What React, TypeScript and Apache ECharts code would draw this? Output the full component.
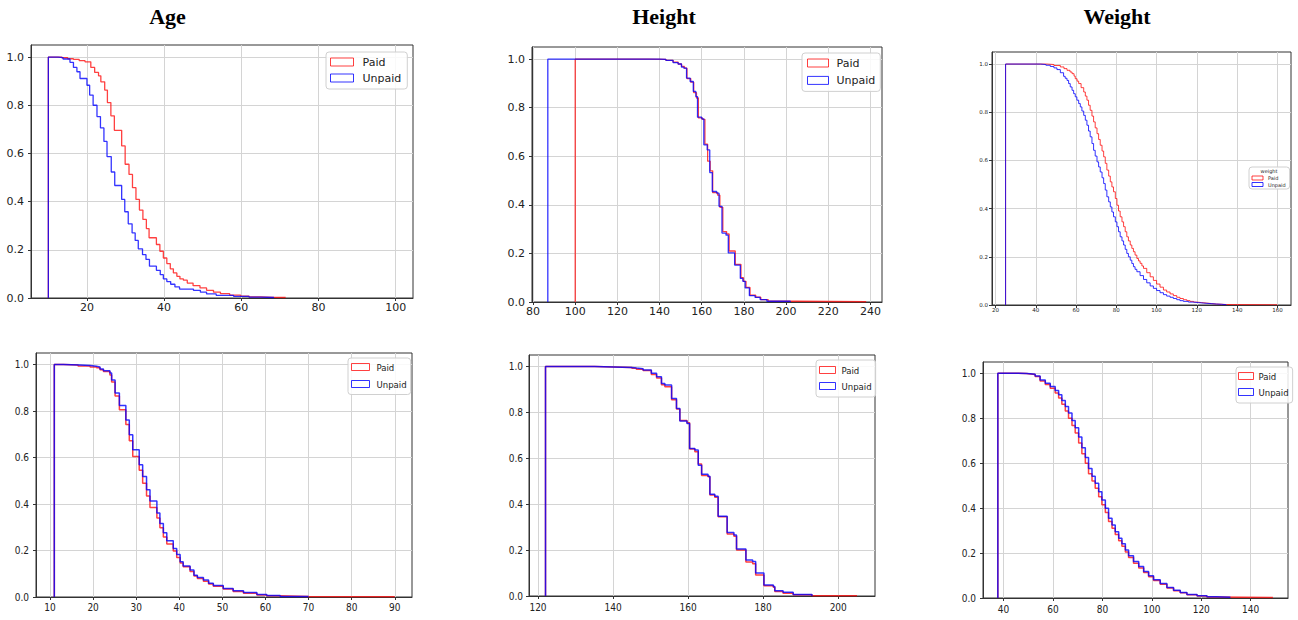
import React, { useEffect, useRef } from 'react';
import * as echarts from 'echarts';

// Step survival curves: [bin edge, fraction remaining]
const ageTopPaid: [number, number][] = [
  [10, 1.0], [13.5, 0.997], [15, 0.993], [16.5, 0.99], [18, 0.985], [19.5, 0.98], [21, 0.957], [22, 0.936],
  [23, 0.922], [23.6, 0.897], [24.6, 0.863], [25.3, 0.811], [26.2, 0.756], [27.1, 0.696], [29, 0.631],
  [29.9, 0.555], [30.9, 0.513], [31.8, 0.458], [32.7, 0.409], [33.6, 0.365], [34.5, 0.326], [35.4, 0.288],
  [36.1, 0.25], [38, 0.222], [38.9, 0.194], [39.8, 0.166], [40.7, 0.143], [41.6, 0.121], [42.4, 0.104],
  [43.3, 0.09], [44.1, 0.079], [45, 0.074], [46, 0.062], [47.5, 0.051], [49.3, 0.042], [51, 0.032],
  [52.8, 0.024], [54.6, 0.018], [57, 0.012], [59.8, 0.008], [62, 0.005], [65, 0.003], [68.5, 0.002], [71.5, 0],
];
const ageTopUnpaid: [number, number][] = [
  [10, 1.0], [12.5, 0.998], [13.8, 0.992], [15.6, 0.978], [16.5, 0.957], [17.4, 0.939], [18.2, 0.911],
  [20, 0.883], [20.7, 0.842], [21.6, 0.8], [22.6, 0.753], [23.5, 0.706], [24.4, 0.65], [25.2, 0.587],
  [26.3, 0.523], [27.2, 0.467], [29, 0.409], [29.8, 0.358], [30.7, 0.308], [31.7, 0.27], [32.5, 0.239],
  [33.3, 0.204], [34.4, 0.18], [35.3, 0.16], [36.2, 0.132], [38, 0.115], [39, 0.097], [39.8, 0.079],
  [40.7, 0.068], [41.7, 0.057], [42.8, 0.046], [44, 0.037], [47.6, 0.032], [49.4, 0.024], [51, 0.017],
  [53.5, 0.011], [58, 0.007], [62, 0.004], [65, 0.002], [68.5, 0],
];
const heightTopPaid: [number, number][] = [
  [100, 1.0], [135, 0.999], [143, 0.995], [146.4, 0.988], [148.8, 0.98], [150.4, 0.97], [151.8, 0.963],
  [153, 0.92], [154.8, 0.905], [156.2, 0.862], [157.5, 0.84], [158.4, 0.758], [160.3, 0.752], [161.5, 0.65],
  [162.8, 0.58], [164, 0.54], [165.2, 0.45], [167.5, 0.44], [168.6, 0.39], [170, 0.29], [171.8, 0.28],
  [173, 0.21], [175.9, 0.155], [178.6, 0.1], [179.8, 0.085], [181, 0.06], [182.9, 0.028], [185.6, 0.02],
  [188, 0.01], [191.5, 0.003], [205, 0.001], [238, 0],
];
const heightTopUnpaid: [number, number][] = [
  [87, 1.0], [140, 0.999], [143, 0.995], [146.4, 0.986], [148.8, 0.98], [150.4, 0.967], [151.5, 0.963],
  [152.8, 0.922], [154.5, 0.908], [156, 0.867], [157.2, 0.846], [158, 0.761], [160, 0.754], [161, 0.647],
  [162.6, 0.626], [163.8, 0.533], [165, 0.455], [167.1, 0.448], [168.2, 0.394], [169.6, 0.284], [171.5, 0.275],
  [172.6, 0.202], [175.6, 0.152], [178.3, 0.097], [179.5, 0.085], [180.6, 0.058], [182.6, 0.026],
  [185.3, 0.019], [187.7, 0.01], [190.9, 0.003], [202, 0],
];
const weightTopPaid: [number, number][] = [
  [25, 1.0], [45.6, 0.998], [49, 0.994], [52.2, 0.988], [54, 0.981], [55.5, 0.974], [57, 0.967], [58, 0.96],
  [59, 0.95], [59.6, 0.939], [60.5, 0.929], [61.3, 0.919], [62.5, 0.902], [63.8, 0.884], [64.6, 0.867],
  [65.4, 0.85], [66.2, 0.829], [67, 0.808], [67.9, 0.784], [68.7, 0.76], [69.5, 0.735], [70.4, 0.711],
  [71.2, 0.687], [72, 0.663], [72.9, 0.639], [73.7, 0.615], [74.5, 0.588], [75.3, 0.56], [76.2, 0.535],
  [77, 0.511], [77.8, 0.49], [78.6, 0.47], [79.5, 0.442], [80.3, 0.414], [81.1, 0.39], [81.9, 0.366],
  [82.8, 0.345], [83.6, 0.325], [84.4, 0.304], [85.2, 0.283], [86, 0.266], [86.9, 0.249], [87.7, 0.235],
  [88.5, 0.221], [89.3, 0.207], [90.2, 0.193], [91, 0.183], [91.8, 0.173], [92.7, 0.162], [93.5, 0.152],
  [95.1, 0.134], [96.8, 0.117], [98.4, 0.102], [100, 0.087], [101.7, 0.074], [103.4, 0.062], [105, 0.054],
  [106.7, 0.046], [108.3, 0.039], [110, 0.032], [111.6, 0.027], [113.3, 0.022], [115, 0.018], [116.6, 0.015],
  [118.3, 0.012], [119.9, 0.01], [122.4, 0.008], [124.8, 0.006], [127.3, 0.004], [129.8, 0.003],
  [132.3, 0.002], [134.7, 0.001], [160, 0],
];
const weightTopUnpaid: [number, number][] = [
  [25, 1.0], [42.3, 0.998], [45, 0.995], [47.2, 0.99], [49, 0.984], [50.5, 0.977], [52.2, 0.964], [53.8, 0.949],
  [54.6, 0.941], [55.5, 0.932], [56.3, 0.919], [57.1, 0.905], [58, 0.891], [58.8, 0.877], [59.6, 0.864],
  [60.4, 0.85], [61.3, 0.836], [62.1, 0.822], [62.9, 0.805], [63.8, 0.787], [64.6, 0.767], [65.4, 0.746],
  [66.2, 0.722], [67, 0.698], [67.9, 0.67], [68.7, 0.642], [69.5, 0.618], [70.4, 0.594], [71.2, 0.573],
  [72, 0.552], [72.9, 0.528], [73.7, 0.504], [74.5, 0.477], [75.3, 0.449], [76.2, 0.428], [77, 0.407],
  [77.8, 0.386], [78.6, 0.366], [79.5, 0.345], [80.3, 0.325], [81.1, 0.304], [81.9, 0.283], [82.8, 0.266],
  [83.6, 0.249], [84.4, 0.231], [85.2, 0.214], [86, 0.2], [86.9, 0.186], [87.7, 0.172], [88.5, 0.159],
  [89.3, 0.148], [90.2, 0.138], [91.8, 0.122], [93.5, 0.106], [95.1, 0.092], [96.8, 0.079], [98.4, 0.069],
  [100, 0.06], [101.7, 0.051], [103.4, 0.043], [105, 0.037], [106.7, 0.032], [108.3, 0.027], [110, 0.022],
  [111.6, 0.018], [113.3, 0.015], [115.8, 0.012], [118.2, 0.01], [120.7, 0.008], [123.2, 0.006],
  [126.5, 0.004], [129.8, 0.003], [132.3, 0.001], [134.7, 0],
];
const ageBottomPaid: [number, number][] = [
  [11, 1.0], [13.1, 0.998], [16.5, 0.994], [19.3, 0.99], [20.8, 0.986], [21.6, 0.978], [22.4, 0.97],
  [23.9, 0.955], [24.3, 0.925], [25.1, 0.865], [26.1, 0.806], [27.6, 0.742], [28.4, 0.672], [29.2, 0.605],
  [30.7, 0.545], [31.5, 0.49], [32.4, 0.435], [33.2, 0.385], [34.8, 0.34], [35.5, 0.298], [36.3, 0.258],
  [37.1, 0.228], [38.6, 0.198], [39.4, 0.17], [40.2, 0.146], [40.9, 0.13], [42.5, 0.11], [43.4, 0.09],
  [44.2, 0.08], [45.6, 0.068], [46.8, 0.056], [47.9, 0.046], [50.2, 0.034], [52.5, 0.024], [54.9, 0.016],
  [58, 0.009], [60.3, 0.005], [63.4, 0.002], [70, 0.001], [90, 0],
];
const ageBottomUnpaid: [number, number][] = [
  [11, 1.0], [13.1, 0.998], [17, 0.996], [19.3, 0.993], [20.8, 0.99], [21.6, 0.981], [22.4, 0.974],
  [23.9, 0.964], [24.3, 0.934], [25.1, 0.878], [26.1, 0.824], [27.6, 0.762], [28.4, 0.698], [29.2, 0.634],
  [30.7, 0.569], [31.5, 0.519], [32.4, 0.462], [33.2, 0.413], [34.8, 0.362], [35.5, 0.316], [36.3, 0.276],
  [37.1, 0.242], [38.6, 0.209], [39.4, 0.183], [40.2, 0.152], [40.9, 0.133], [42.5, 0.116], [43.4, 0.094],
  [44.2, 0.084], [45.6, 0.073], [46.8, 0.059], [47.9, 0.049], [50.2, 0.037], [52.5, 0.027], [54.9, 0.019],
  [58, 0.011], [60.3, 0.006], [63.4, 0.002], [70, 0],
];
const heightBottomPaid: [number, number][] = [
  [122, 1.0], [135.1, 0.998], [140, 0.996], [145, 0.992], [146.2, 0.988], [148, 0.982], [150.2, 0.965],
  [151.6, 0.95], [152.9, 0.92], [153.8, 0.912], [155.6, 0.855], [156.9, 0.815], [157.8, 0.765], [159.7, 0.755],
  [160.4, 0.64], [161.8, 0.628], [162.7, 0.575], [163.6, 0.525], [165.3, 0.52], [165.8, 0.44], [167.1, 0.43],
  [168, 0.345], [170.4, 0.27], [172.2, 0.26], [172.9, 0.2], [175.4, 0.148], [177.2, 0.14], [178, 0.092],
  [180.2, 0.045], [182.7, 0.038], [183.1, 0.02], [185.3, 0.012], [188, 0.005], [193, 0.001], [205, 0],
];
const heightBottomUnpaid: [number, number][] = [
  [122, 1.0], [135.1, 0.998], [140, 0.996], [145, 0.993], [146.2, 0.99], [148, 0.985], [150.2, 0.97],
  [151.6, 0.955], [152.9, 0.926], [153.8, 0.919], [155.6, 0.861], [156.9, 0.817], [157.8, 0.762],
  [159.7, 0.752], [160.4, 0.643], [161.8, 0.636], [162.7, 0.57], [163.6, 0.53], [165.3, 0.522],
  [165.8, 0.443], [167.1, 0.435], [168, 0.348], [170.4, 0.277], [172.2, 0.266], [172.9, 0.205],
  [175.4, 0.157], [177.2, 0.15], [178, 0.1], [180.2, 0.048], [182.7, 0.041], [183.1, 0.023], [185.3, 0.016],
  [188, 0.006], [193, 0],
];
const weightBottomPaid: [number, number][] = [
  [37.7, 1.0], [46, 0.999], [49.4, 0.997], [50.8, 0.994], [52.8, 0.986], [54.8, 0.966], [56.9, 0.95],
  [58.9, 0.933], [60.9, 0.912], [62.3, 0.89], [63.6, 0.862], [65, 0.832], [66.3, 0.8], [67.7, 0.768],
  [69, 0.734], [70.4, 0.69], [71.7, 0.642], [73.1, 0.6], [74.4, 0.553], [75.8, 0.52], [77.1, 0.488],
  [78.5, 0.451], [79.8, 0.415], [81.2, 0.38], [82.5, 0.34], [83.9, 0.31], [85.2, 0.282], [86.6, 0.255],
  [87.9, 0.23], [89.3, 0.205], [90.6, 0.18], [92.6, 0.155], [94.7, 0.134], [96.7, 0.113], [98.7, 0.095],
  [100.7, 0.078], [103.4, 0.061], [106.1, 0.045], [108.8, 0.032], [111.5, 0.023], [114.2, 0.015],
  [118.3, 0.009], [122.3, 0.005], [126, 0.002], [149, 0],
];
const weightBottomUnpaid: [number, number][] = [
  [37.7, 1.0], [46, 0.999], [49.4, 0.998], [50.8, 0.996], [52.8, 0.988], [54.8, 0.97], [56.9, 0.956],
  [58.9, 0.941], [60.9, 0.923], [62.3, 0.904], [63.6, 0.879], [65, 0.852], [66.3, 0.823], [67.7, 0.79],
  [69, 0.758], [70.4, 0.716], [71.7, 0.669], [73.1, 0.625], [74.4, 0.576], [75.8, 0.542], [77.1, 0.51],
  [78.5, 0.473], [79.8, 0.436], [81.2, 0.399], [82.5, 0.355], [83.9, 0.325], [85.2, 0.295], [86.6, 0.266],
  [87.9, 0.241], [89.3, 0.214], [90.6, 0.188], [92.6, 0.162], [94.7, 0.14], [96.7, 0.118], [98.7, 0.099],
  [100.7, 0.081], [103.4, 0.064], [106.1, 0.047], [108.8, 0.034], [111.5, 0.025], [114.2, 0.016],
  [118.3, 0.01], [122.3, 0.006], [126, 0.003], [131.8, 0],
];

const columnTitles = ['Age', 'Height', 'Weight'];
const seriesNames = ['Paid', 'Unpaid'];
const yTicks = [0, 0.2, 0.4, 0.6, 0.8, 1.0];
const ageTopTicks = [20, 40, 60, 80, 100];
const heightTopTicks = [80, 100, 120, 140, 160, 180, 200, 220, 240];
const weightTopTicks = [20, 40, 60, 80, 100, 120, 140, 160];
const ageBottomTicks = [10, 20, 30, 40, 50, 60, 70, 80, 90];
const heightBottomTicks = [120, 140, 160, 180, 200];
const weightBottomTicks = [40, 60, 80, 100, 120, 140];

const RED = 'rgba(255,0,0,0.75)';
const BLUE = 'rgba(0,0,255,0.8)';
const SANS = '"DejaVu Sans", sans-serif';
const COND = '"DejaVu Sans Condensed", "DejaVu Sans", sans-serif';

const panels = [
  { paid: ageTopPaid, unpaid: ageTopUnpaid, ticks: ageTopTicks, xMin: 5.5, xMax: 104.5, split: 5,
    grid: { left: 31, top: 45, width: 382, height: 253 }, font: 11, family: SANS, lx: 4, ly: 7, lw: 1.3,
    legend: { left: 326, top: 52, iw: 23, ih: 8, fs: 11, lh: 12, gap: 4, pad: [4, 6, 5, 4], tp: 4 } },
  { paid: heightTopPaid, unpaid: heightTopUnpaid, ticks: heightTopTicks, xMin: 79.5, xMax: 245.5, split: 8,
    grid: { left: 532, top: 47, width: 350, height: 255 }, font: 11, family: SANS, lx: 4, ly: 7, lw: 1.3,
    legend: { left: 802, top: 53, iw: 21, ih: 8, fs: 11, lh: 12, gap: 5.4, pad: [4, 5, 5, 5], tp: 3 } },
  { paid: weightTopPaid, unpaid: weightTopUnpaid, ticks: weightTopTicks, xMin: 18.25, xMax: 166.75, split: 7,
    grid: { left: 992, top: 52, width: 299, height: 253 }, font: 5.5, family: SANS, lx: 2, ly: 4, lw: 1,
    legend: { left: 1249, top: 167, iw: 11, ih: 4, fs: 5, lh: 5, gap: 1.5, pad: [8.5, 4, 2, 2.5], tp: 0 } },
  { paid: ageBottomPaid, unpaid: ageBottomUnpaid, ticks: ageBottomTicks, xMin: 6.75, xMax: 94, split: 9,
    grid: { left: 36, top: 353, width: 376, height: 244 }, font: 10, family: COND, lx: 5, ly: 7, lw: 1.5,
    legend: { left: 348, top: 358, iw: 18, ih: 7, fs: 9.5, lh: 11, gap: 6, pad: [3.5, 4, 5, 3], tp: 2 } },
  { paid: heightBottomPaid, unpaid: heightBottomUnpaid, ticks: heightBottomTicks, xMin: 117.6, xMax: 209.8, split: 4,
    grid: { left: 529, top: 355, width: 346, height: 241 }, font: 10, family: COND, lx: 6, ly: 6, lw: 1.5,
    legend: { left: 816, top: 360, iw: 16, ih: 7, fs: 9.5, lh: 11, gap: 5, pad: [4.5, 4, 5.5, 3], tp: 1 } },
  { paid: weightBottomPaid, unpaid: weightBottomUnpaid, ticks: weightBottomTicks, xMin: 31.7, xMax: 155.1, split: 6,
    grid: { left: 983, top: 362, width: 305, height: 236 }, font: 10, family: COND, lx: 6, ly: 7, lw: 1.5,
    legend: { left: 1236, top: 367, iw: 15, ih: 7, fs: 9.5, lh: 11, gap: 5, pad: [3.5, 4, 5.5, 2], tp: 0 } },
];

const titleCenters = [167.5, 664, 1117];

function toSteps(pts: [number, number][]) {
  return [[pts[0][0], 0], ...pts];
}

export default function App() {
  const ref = useRef<HTMLDivElement>(null);
  useEffect(() => {
    document.body.style.margin = '0';
    if (!ref.current) return;
    const chart = echarts.init(ref.current, null, { renderer: 'svg' });
    const AX = '#333';
    const option: any = {
      animation: false,
      backgroundColor: '#fff',
      grid: panels.map((p) => ({ ...p.grid, show: true, borderColor: AX, borderWidth: 1, backgroundColor: 'transparent', containLabel: false })),
      xAxis: panels.map((p, i) => ({
        type: 'value', gridIndex: i, min: p.xMin, max: p.xMax, splitNumber: p.split,
        axisLine: { show: true, onZero: false, lineStyle: { color: AX, width: 1 } },
        axisTick: { show: true, length: 3, lineStyle: { color: AX }, customValues: p.ticks },
        axisLabel: {
          show: true, customValues: p.ticks, fontSize: p.font, fontFamily: p.family, color: '#222', margin: p.lx,
          formatter: (v: number) => (p.ticks.some((t) => Math.abs(t - v) < 1e-6) ? String(v) : ''),
        },
        splitLine: { show: true, lineStyle: { color: '#d4d4d4', width: 1 } },
      })),
      yAxis: panels.map((p, i) => ({
        type: 'value', gridIndex: i, min: 0, max: 1.05, interval: 0.2,
        axisLine: { show: true, onZero: false, lineStyle: { color: AX, width: 1 } },
        axisTick: { show: true, length: 3, lineStyle: { color: AX }, customValues: yTicks },
        axisLabel: {
          show: true, customValues: yTicks, fontSize: p.font, fontFamily: p.family, color: '#222', margin: p.ly,
          formatter: (v: number) => (v > 1.001 ? '' : v.toFixed(1)),
        },
        splitLine: { show: true, lineStyle: { color: '#d4d4d4', width: 1 } },
      })),
      legend: panels.map((p) => ({
        left: p.legend.left, top: p.legend.top, orient: 'vertical', icon: 'rect',
        itemWidth: p.legend.iw, itemHeight: p.legend.ih, itemGap: p.legend.gap, padding: p.legend.pad,
        borderColor: '#d0d0d0', borderWidth: 1, borderRadius: 3, backgroundColor: 'rgba(255,255,255,0.85)',
        selectedMode: false,
        textStyle: { fontSize: p.legend.fs, fontFamily: p.family, color: '#222', lineHeight: p.legend.lh, padding: [0, 0, 0, p.legend.tp] },
        data: [
          { name: seriesNames[0], itemStyle: { color: 'rgba(255,255,255,0)', borderColor: RED, borderWidth: 1 } },
          { name: seriesNames[1], itemStyle: { color: 'rgba(255,255,255,0)', borderColor: BLUE, borderWidth: 1 } },
        ],
      })),
      graphic: [
        ...columnTitles.map((t, i) => ({
          type: 'text', x: titleCenters[i], y: 16,
          style: { text: t, font: 'bold 22px "Liberation Serif", "Times New Roman", serif', fill: '#000',
            textAlign: 'center', textVerticalAlign: 'middle', align: 'center', verticalAlign: 'middle' },
        })),
        { type: 'text', x: 1269, y: 171, z: 100,
          style: { text: 'weight', font: '5px "DejaVu Sans", sans-serif', fill: '#222',
            textAlign: 'center', textVerticalAlign: 'middle', align: 'center', verticalAlign: 'middle' } },
      ],
      series: panels.flatMap((p, i) => [
        { type: 'line', name: seriesNames[0], xAxisIndex: i, yAxisIndex: i, step: 'end', symbol: 'none', showSymbol: false,
          data: toSteps(p.paid), lineStyle: { color: RED, width: p.lw }, itemStyle: { color: RED }, z: 2, silent: true },
        { type: 'line', name: seriesNames[1], xAxisIndex: i, yAxisIndex: i, step: 'end', symbol: 'none', showSymbol: false,
          data: toSteps(p.unpaid), lineStyle: { color: BLUE, width: p.lw }, itemStyle: { color: BLUE }, z: 3, silent: true },
      ]),
    };
    chart.setOption(option);
    return () => chart.dispose();
  }, []);
  return <div ref={ref} style={{ width: 1298, height: 620 }} />;
}
